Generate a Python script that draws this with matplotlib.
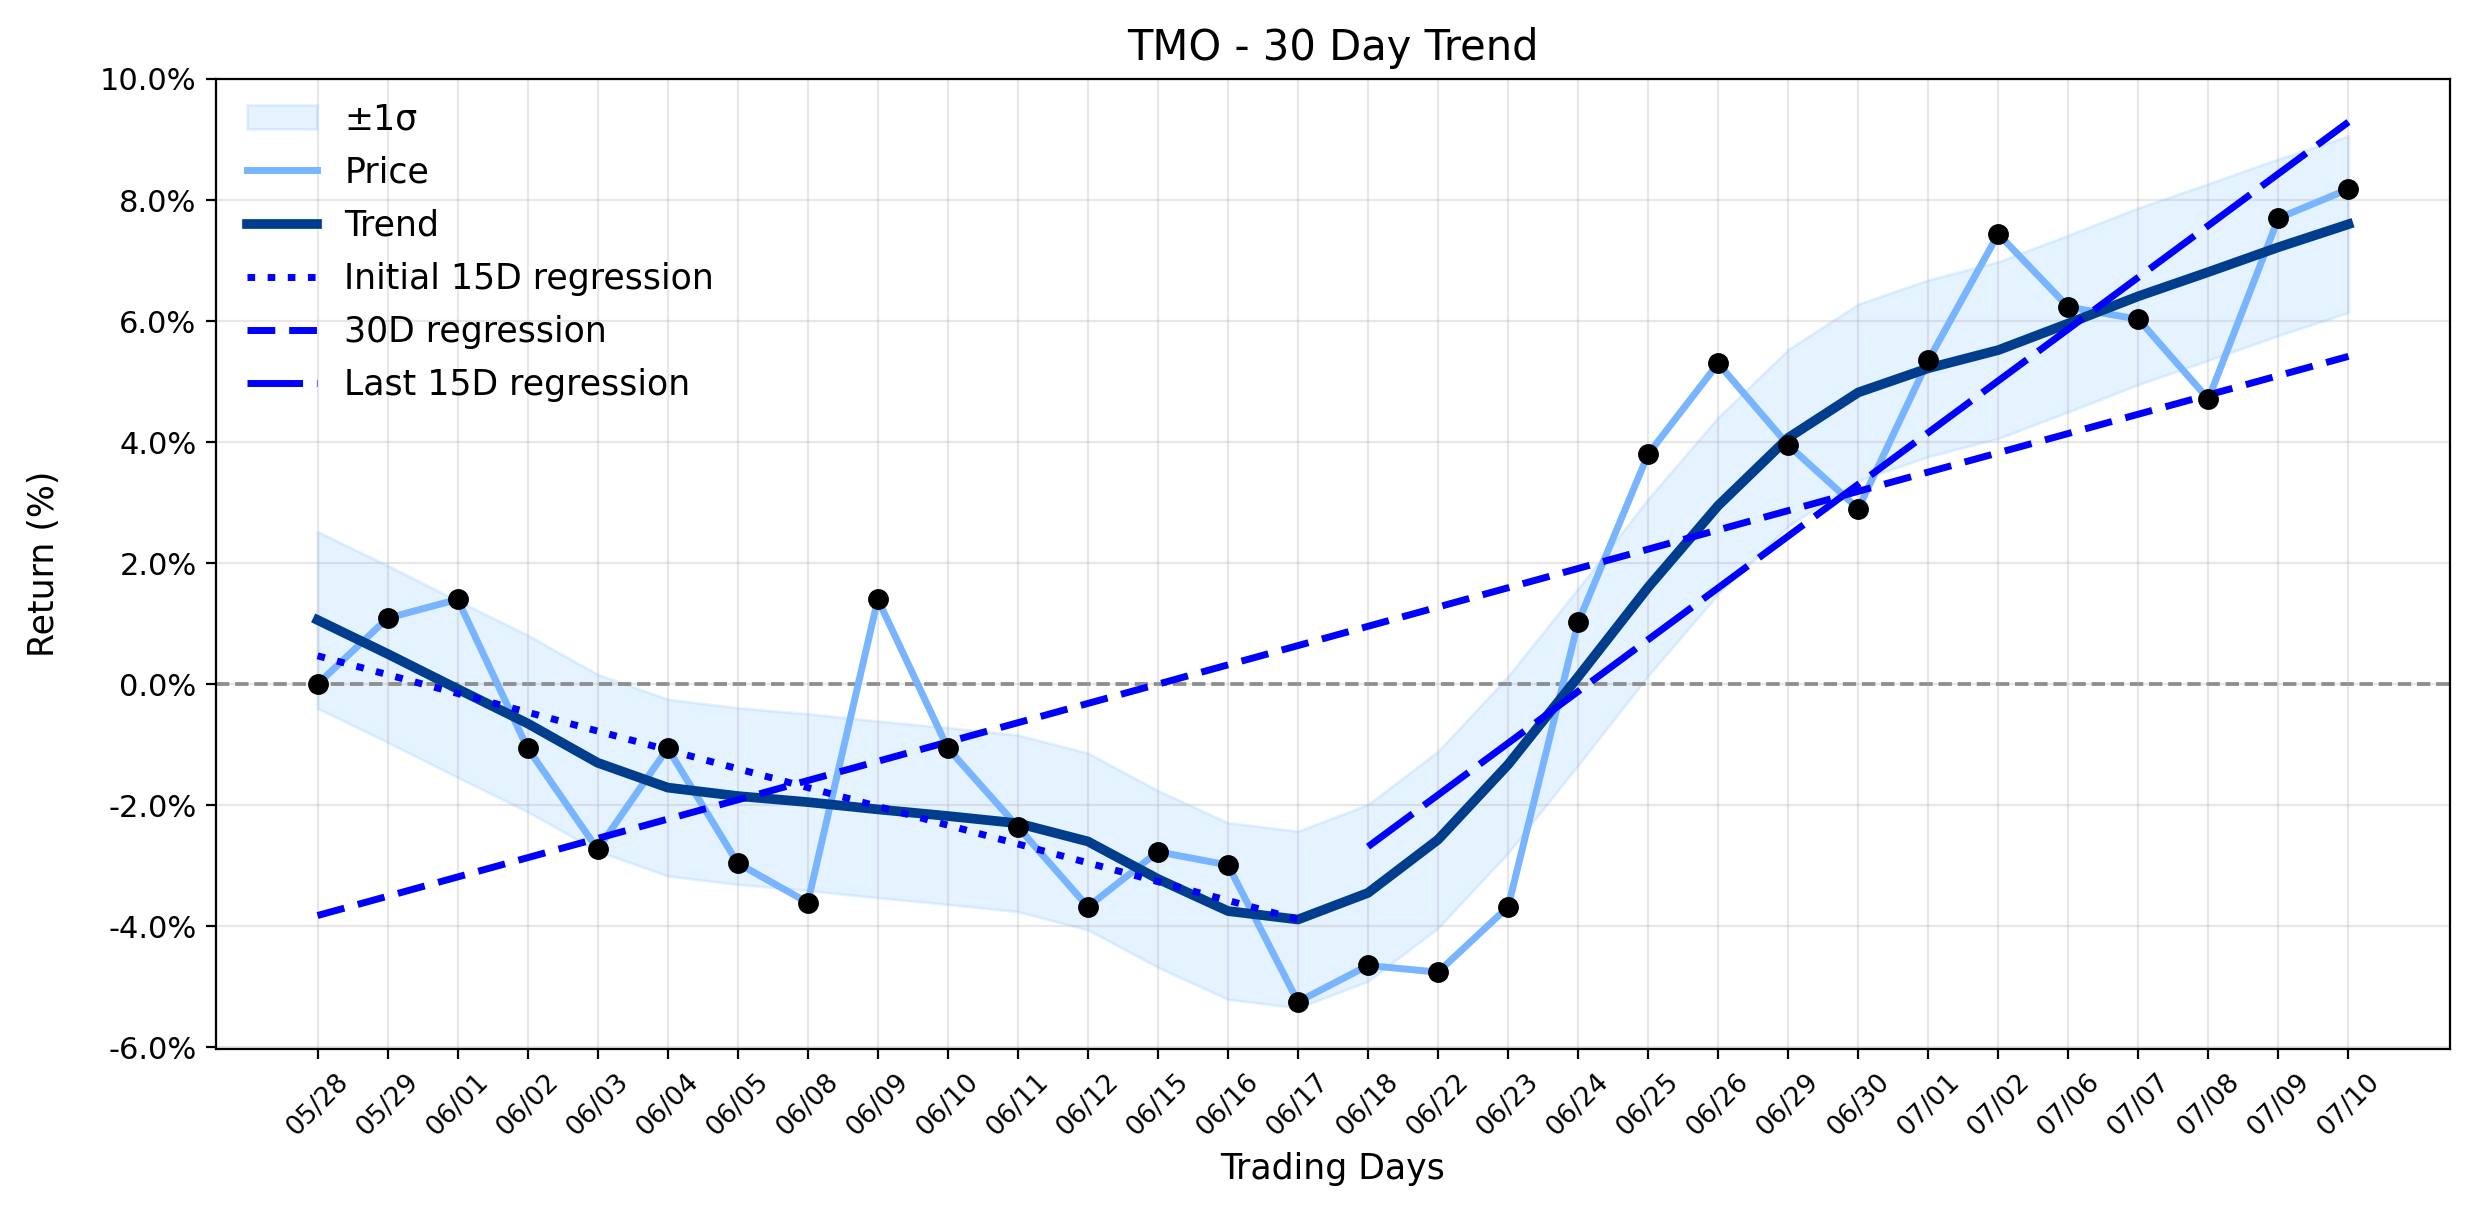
import numpy as np
import matplotlib
matplotlib.use("Agg")
import matplotlib.pyplot as plt
from matplotlib.ticker import FuncFormatter

# ---- data ----
dates = ['05/28', '05/29', '06/01', '06/02', '06/03', '06/04', '06/05', '06/08',
         '06/09', '06/10', '06/11', '06/12', '06/15', '06/16', '06/17', '06/18',
         '06/22', '06/23', '06/24', '06/25', '06/26', '06/29', '06/30', '07/01',
         '07/02', '07/06', '07/07', '07/08', '07/09', '07/10']
price = [0.00, 1.09, 1.40, -1.06, -2.73, -1.06, -2.96, -3.61, 1.40, -1.06,
         -2.36, -3.68, -2.77, -2.99, -5.25, -4.65, -4.76, -3.68, 1.02, 3.80,
         5.30, 3.95, 2.90, 5.35, 7.44, 6.23, 6.03, 4.71, 7.70, 8.18]
trend = [1.06, 0.50, -0.08, -0.65, -1.30, -1.71, -1.85, -1.95, -2.07, -2.18,
         -2.30, -2.60, -3.22, -3.75, -3.89, -3.45, -2.57, -1.33, 0.12, 1.60,
         2.95, 4.07, 4.82, 5.22, 5.52, 5.96, 6.41, 6.81, 7.22, 7.60]
sigma = 1.46
y_ticks = [-6, -4, -2, 0, 2, 4, 6, 8, 10]

x = np.arange(len(dates))
p = np.array(price)
t = np.array(trend)

fig = plt.figure(figsize=(12.37, 6.12), dpi=200)
ax = fig.add_axes([216 / 2474, 1 - 1049 / 1224, (2450 - 216) / 2474, (1049 - 79) / 1224])

ax.fill_between(x, t - sigma, t + sigma, color='#66b2ff', alpha=0.17, label='±1σ', zorder=1)
ax.axhline(0, color='gray', linestyle='--', linewidth=1.3, zorder=1.5)
ax.plot(x, p, color='#78b4ff', linewidth=2.5, label='Price', zorder=3)
ax.plot(x, t, color='#003d8c', linewidth=3.5, label='Trend', zorder=4)

# regressions
n = 15
c1 = np.polyfit(x[:n], p[:n], 1)
ax.plot(x[:n], np.polyval(c1, x[:n]), color='blue', linewidth=2.5,
        linestyle=(0, (1.1, 1.8)), label='Initial 15D regression', zorder=5)
c2 = np.polyfit(x, p, 1)
ax.plot(x, np.polyval(c2, x), color='blue', linewidth=2.5,
        linestyle=(0, (4, 2)), label='30D regression', zorder=5)
c3 = np.polyfit(x[-n:], p[-n:], 1)
ax.plot(x[-n:], np.polyval(c3, x[-n:]), color='blue', linewidth=2.5,
        linestyle=(0, (8, 2)), label='Last 15D regression', zorder=5)

ax.plot(x, p, 'o', color='black', markersize=6.5, linestyle='none', zorder=6)

ax.set_ylim(-6.03, 10.0)
ax.set_yticks(y_ticks)
ax.yaxis.set_major_formatter(FuncFormatter(lambda v, _: f'{v:.1f}%'))
ax.set_xticks(x)
ax.set_xticklabels(dates, rotation=45, fontsize=9.5)
ax.tick_params(axis='y', labelsize=11)
ax.grid(True, alpha=0.3)
ax.set_title('TMO - 30 Day Trend', fontsize=15, pad=7)
ax.set_xlabel('Trading Days', fontsize=12.5)
ax.set_ylabel('Return (%)', fontsize=12.5, labelpad=14)
ax.legend(loc='upper left', frameon=False, fontsize=12.5, handlelength=2.0,
          labelspacing=0.55, borderaxespad=0.5, bbox_to_anchor=(0.0, 1.008))

fig.savefig('out.png', dpi=200)
